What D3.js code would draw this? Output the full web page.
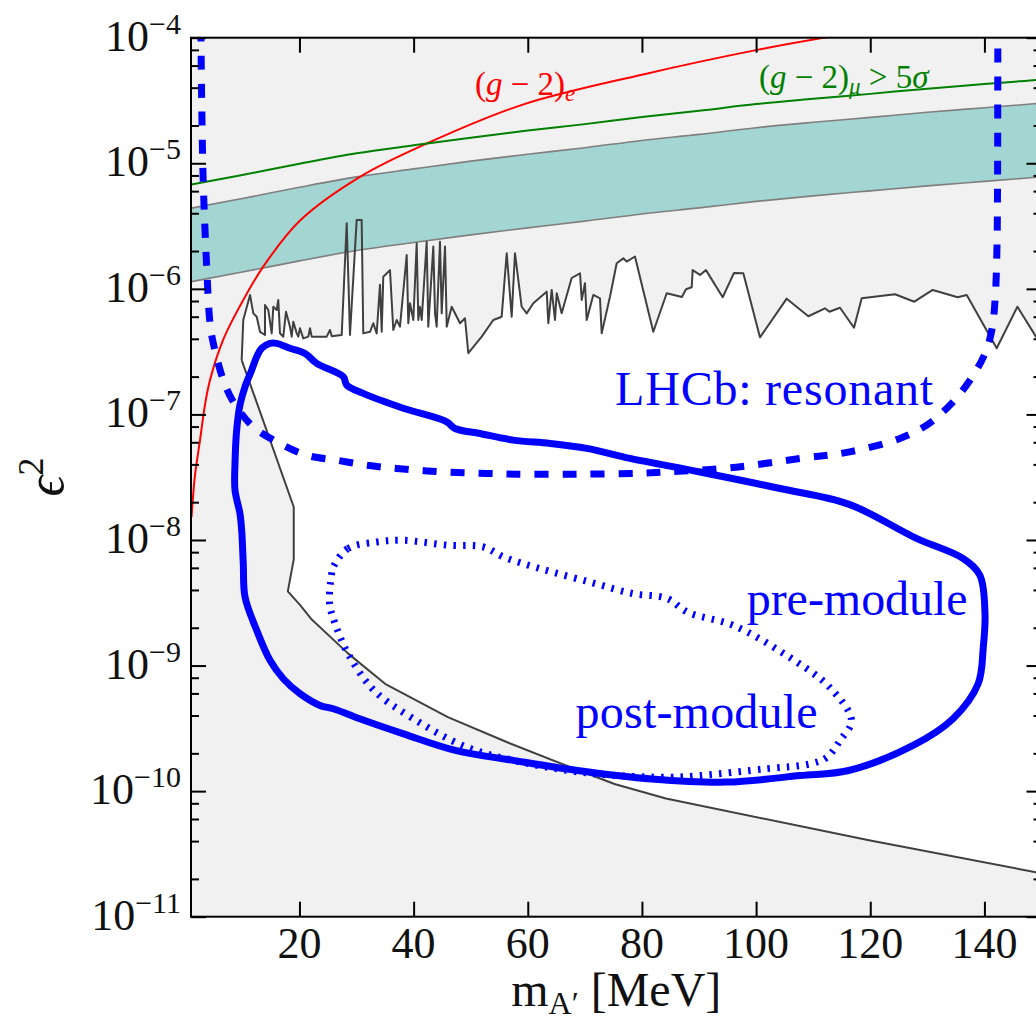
<!DOCTYPE html>
<html>
<head>
<meta charset="utf-8">
<script src="https://cdn.jsdelivr.net/npm/d3@7"></script>
<style>
    html, body { margin: 0; padding: 0; background: #fff; }
    svg { display: block; }
    text { font-family: "Liberation Serif", "DejaVu Serif", serif; }
</style>
</head>
<body>
<div id="chart"></div>
<script>
//@ts-check

/**
 * Tick values
 */
const massTicks = [20, 40, 60, 80, 100, 120, 140];
const decadeExponents = [-11, -10, -9, -8, -7, -6, -5, -4];

/**
 * (g-2)_mu band and the 5 sigma line, sampled every 10 MeV
 */
const bandMass = [1, 10, 20, 30, 40, 50, 60, 70, 80, 90, 100, 110, 120, 130, 140, 150];
const bandLower = [1.14e-6, 1.36e-6, 1.67e-6, 2.02e-6, 2.34e-6, 2.69e-6, 3.06e-6, 3.46e-6, 3.95e-6, 4.41e-6, 4.97e-6, 5.50e-6, 6.03e-6, 6.61e-6, 7.18e-6, 7.80e-6];
const bandUpper = [4.39e-6, 5.24e-6, 6.44e-6, 7.79e-6, 9.02e-6, 1.04e-5, 1.18e-5, 1.33e-5, 1.52e-5, 1.70e-5, 1.92e-5, 2.12e-5, 2.32e-5, 2.55e-5, 2.77e-5, 3.01e-5];
const muonFiveSigma = [6.76e-6, 8.07e-6, 9.92e-6, 1.20e-5, 1.39e-5, 1.60e-5, 1.82e-5, 2.05e-5, 2.34e-5, 2.62e-5, 2.96e-5, 3.26e-5, 3.57e-5, 3.93e-5, 4.27e-5, 4.64e-5];

/**
 * (g-2)_e line
 */
const electronMass = [1.09, 1.70, 2.58, 3.45, 4.33, 6.61, 9.58, 13.6, 20.1, 30.6, 42.2, 59.0, 80.2, 100.2, 111.9, 125];
const electronEps2 = [1.52e-8, 3.28e-8, 6.24e-8, 1.19e-7, 1.88e-7, 3.91e-7, 7.30e-7, 1.49e-6, 3.5e-6, 7.8e-6, 1.43e-5, 2.92e-5, 5.1e-5, 8.0e-5, 1.0e-4, 1.25e-4];

/**
 * Existing limits: upper edge of the allowed window (prompt searches), [mass, eps2]
 */
const promptLimit = [
    [9.88, 2.71e-7], [10.16, 5.65e-7], [11.34, 8.94e-7], [11.91, 6.38e-7], [12.51, 6.0e-7], [13.09, 4.55e-7],
    [13.96, 4.29e-7], [13.96, 7.44e-7], [14.54, 6.78e-7], [15.14, 4.42e-7], [15.42, 7.2e-7], [16.01, 6.78e-7],
    [16.29, 8.15e-7], [16.59, 4.42e-7], [17.17, 4.16e-7], [17.64, 6.57e-7], [18.34, 5.0e-7], [18.64, 4.16e-7],
    [18.92, 5.47e-7], [19.52, 4.42e-7], [19.80, 4.16e-7], [20.09, 4.85e-7], [20.67, 4.03e-7], [21.55, 4.16e-7],
    [21.85, 4.85e-7], [22.14, 4.16e-7], [23.60, 4.16e-7], [24.77, 4.16e-7], [25.35, 4.70e-7], [25.65, 4.2e-7],
    [27.40, 4.29e-7], [28.28, 3.33e-6], [28.85, 4.29e-7], [30.03, 3.54e-6], [30.90, 3.54e-6], [31.18, 4.42e-7],
    [32.36, 4.55e-7], [32.94, 5.32e-7], [33.53, 4.42e-7], [34.11, 1.08e-6], [34.41, 4.55e-7], [34.69, 1.25e-6],
    [35.86, 1.41e-6], [36.44, 4.70e-7], [37.04, 5.65e-7], [37.61, 5.0e-7], [38.79, 1.86e-6], [39.07, 5.32e-7],
    [39.37, 7.67e-7], [39.95, 5.65e-7], [40.54, 2.31e-6], [40.82, 5.65e-7], [41.12, 7.2e-7], [41.42, 5.65e-7],
    [42.29, 2.37e-6], [42.57, 5.0e-7], [43.45, 2.17e-6], [43.75, 6.38e-7], [44.04, 5.0e-7], [44.62, 2.37e-6],
    [44.92, 6.38e-7], [45.50, 2.17e-6], [45.80, 5.0e-7], [46.67, 7.2e-7], [48.13, 5.32e-7], [49.00, 5.83e-7],
    [49.58, 3.07e-7], [51.93, 4.16e-7], [53.96, 5.65e-7], [55.43, 6.0e-7], [56.31, 1.92e-6], [57.18, 6.0e-7],
    [57.76, 1.92e-6], [58.93, 7.2e-7], [59.81, 6.38e-7], [60.97, 7.67e-7], [63.31, 9.5e-7], [63.60, 5.32e-7],
    [64.19, 9.80e-7], [64.77, 5.65e-7], [65.07, 9.23e-7], [65.94, 6.38e-7], [67.69, 1.22e-6], [69.15, 1.33e-6],
    [69.45, 8.15e-7], [70.02, 1.11e-6], [70.32, 5.65e-7], [71.48, 8.94e-7], [72.65, 8.41e-7], [72.95, 4.42e-7],
    [74.40, 8.66e-7], [75.58, 1.60e-6], [76.73, 1.75e-6], [77.33, 1.65e-6], [78.78, 1.81e-6], [81.99, 4.55e-7],
    [84.34, 9.23e-7], [87.0, 8.6e-7], [87.72, 9.93e-7], [88.72, 1.03e-6], [88.89, 1.41e-6], [90.17, 1.29e-6],
    [91.22, 1.41e-6], [94.15, 8.57e-7], [96.13, 1.34e-6], [97.76, 1.33e-6], [100.68, 4.11e-7], [105.36, 8.35e-7],
    [109.15, 6.05e-7], [112.07, 7.0e-7], [112.83, 6.57e-7], [114.70, 7.07e-7], [117.15, 4.90e-7], [118.50, 8.41e-7],
    [124.33, 9.06e-7], [127.72, 7.90e-7], [130.94, 9.80e-7], [135.32, 8.57e-7], [136.90, 8.94e-7], [142.15, 3.36e-7],
    [145.78, 7.2e-7], [149.03, 4.16e-7], [150, 3.5e-7]
];

/**
 * Existing limits: lower edge of the allowed window (beam dumps), [mass, eps2]
 */
const beamDumpLimit = [
    [9.88, 2.71e-7], [19.0, 1.83e-8], [19.0, 7.0e-9], [17.96, 3.9e-9], [20.09, 3.04e-9], [22.02, 2.36e-9],
    [28.5, 1.25e-9], [35.0, 7.16e-10], [46.0, 3.88e-10], [56.4, 2.45e-10], [66.7, 1.6e-10], [75.2, 1.14e-10],
    [84.2, 8.73e-11], [120, 4.04e-11], [149, 2.26e-11], [150, 2.2e-11]
];

/**
 * LHCb resonant search reach (dashed), [mass, eps2]
 */
const resonantReach = [
    [2.73, 1.2e-4], [2.87, 3.20e-5], [3.15, 6.95e-6], [3.75, 1.50e-6], [4.33, 5.31e-7], [4.91, 3.68e-7],
    [6.66, 1.88e-7], [8.41, 1.26e-7], [11.91, 7.96e-8], [16.59, 5.87e-8], [21.27, 4.73e-8], [26.52, 4.32e-8],
    [31.78, 3.94e-8], [37.04, 3.71e-8], [42.29, 3.55e-8], [47.55, 3.45e-8], [52.80, 3.39e-8], [58.06, 3.34e-8],
    [68.57, 3.34e-8], [79.08, 3.39e-8], [84.34, 3.48e-8], [96.0, 3.78e-8], [107.7, 4.46e-8], [116.4, 5.03e-8],
    [125.2, 6.44e-8], [129.9, 8.22e-8], [134.0, 1.19e-7], [137.5, 1.88e-7], [140.1, 3.06e-7], [141.3, 4.70e-7],
    [141.9, 8.65e-7], [142.2, 2.17e-6], [142.3, 6.98e-6], [142.35, 1.2e-4]
];

/**
 * Displaced-vertex reach, pre-module (solid contour), [mass, eps2]
 */
const preModule = [
    [13.38, 3.36e-7], [14.84, 3.68e-7], [16.01, 3.68e-7], [18.34, 3.36e-7], [20.97, 3.06e-7], [23.02, 2.55e-7],
    [27.68, 2.0e-7], [28.28, 1.71e-7], [31.18, 1.47e-7], [38.19, 1.12e-7], [45.80, 8.73e-8], [47.25, 7.73e-8],
    [51.63, 7.05e-8], [57.46, 6.24e-8], [63.89, 5.87e-8], [70.32, 5.36e-8], [77.91, 4.46e-8], [90.17, 3.48e-8],
    [104.2, 2.57e-8], [116.2, 1.93e-8], [128.1, 1.03e-8], [136.3, 7.11e-9], [139.2, 5.24e-9], [140.1, 2.59e-9],
    [139.8, 1.40e-9], [138.9, 7.16e-10], [134.5, 3.77e-10], [127.5, 2.31e-10], [116.2, 1.46e-10], [107.7, 1.33e-10],
    [94.85, 1.18e-10], [81.68, 1.25e-10], [68.71, 1.46e-10], [57.69, 1.75e-10], [47.32, 2.11e-10], [38.24, 2.86e-10],
    [29.82, 3.88e-10], [25.93, 4.53e-10], [23.60, 4.81e-10], [20.09, 5.97e-10], [17.17, 7.85e-10], [14.84, 1.10e-9],
    [12.51, 1.91e-9], [10.46, 3.52e-9], [10.16, 6.49e-9], [9.88, 1.19e-8], [9.58, 1.62e-8], [8.71, 2.49e-8],
    [8.71, 4.07e-8], [9.0, 7.5e-8], [9.58, 1.19e-7], [10.46, 1.66e-7], [11.63, 2.25e-7], [12.51, 2.88e-7]
];

/**
 * Displaced-vertex reach, post-module (dotted contour), [mass, eps2]
 */
const postModule = [
    [25.93, 6.10e-9], [28.50, 8.55e-9], [33.53, 9.64e-9], [38.19, 9.95e-9], [46.02, 9.08e-9], [52.21, 8.80e-9],
    [55.75, 7.32e-9], [62.14, 5.92e-9], [70.90, 4.62e-9], [78.43, 3.74e-9], [84.34, 3.43e-9], [88.07, 2.65e-9],
    [96.0, 2.09e-9], [105.4, 1.20e-9], [112.9, 6.70e-10], [116.7, 3.65e-10], [114.7, 2.53e-10], [112.4, 1.86e-10],
    [109.5, 1.65e-10], [101.9, 1.51e-10], [90.17, 1.33e-10], [84.92, 1.29e-10], [71.95, 1.37e-10], [58.99, 1.70e-10],
    [49.26, 2.24e-10], [39.54, 3.88e-10], [33.06, 6.34e-10], [28.52, 1.24e-9], [26.24, 2.16e-9], [25.28, 3.11e-9],
    [25.60, 5.24e-9]
];

/**
 * Frame of the axes in page pixels. The right edge lies just outside the page, as in the original figure.
 */
const width = 1036;
const height = 1021;
const plot = { left: 191, right: 1041.5, top: 37.7, bottom: 916.7 };

const x = d3.scaleLinear().domain([1, 150]).range([plot.left, plot.right]);
const y = d3.scaleLog().domain([1e-11, 1e-4]).range([plot.bottom, plot.top]);

const svg = d3.select("#chart").append("svg")
    .attr("xmlns", "http://www.w3.org/2000/svg")
    .attr("width", width)
    .attr("height", height)
    .attr("viewBox", [0, 0, width, height]);

svg.append("defs")
    .append("clipPath")
    .attr("id", "plotClip")
    .append("rect")
    .attr("x", plot.left)
    .attr("y", plot.top)
    .attr("width", plot.right - plot.left)
    .attr("height", plot.bottom - plot.top);

const area = svg.append("g").attr("clip-path", "url(#plotClip)");

/**
 * Excluded region is grey; the allowed window between the two limits is white.
 */
area.append("rect")
    .attr("x", plot.left)
    .attr("y", plot.top)
    .attr("width", plot.right - plot.left)
    .attr("height", plot.bottom - plot.top)
    .attr("fill", "#f1f1f1");

const pairLine = d3.line().x((d) => x(d[0])).y((d) => y(d[1]));

area.append("path")
    .attr("d", pairLine(promptLimit.concat(beamDumpLimit.slice().reverse())) + "Z")
    .attr("fill", "#fff");

// muon g-2 band
const band = d3.area()
    .x((d, i) => x(bandMass[i]))
    .y0((d, i) => y(bandLower[i]))
    .y1((d, i) => y(bandUpper[i]))
    .curve(d3.curveMonotoneX);

area.append("path")
    .attr("d", band(bandMass))
    .attr("fill", "#a3d6d2");

const massLine = (values) => d3.line()
    .x((d, i) => x(bandMass[i]))
    .y((d) => y(d))
    .curve(d3.curveMonotoneX)(values);

for (const edge of [bandLower, bandUpper]) {
    area.append("path")
        .attr("d", massLine(edge))
        .attr("fill", "none")
        .attr("stroke", "#7f7f7f")
        .attr("stroke-width", 1.6);
}

// limit outlines
for (const limit of [promptLimit, beamDumpLimit]) {
    area.append("path")
        .attr("d", pairLine(limit))
        .attr("fill", "none")
        .attr("stroke", "#404040")
        .attr("stroke-width", 2)
        .attr("stroke-linejoin", "round");
}

area.append("path")
    .attr("d", d3.line()
        .x((d, i) => x(electronMass[i]))
        .y((d) => y(d))
        .curve(d3.curveCatmullRom)(electronEps2))
    .attr("fill", "none")
    .attr("stroke", "#ff0000")
    .attr("stroke-width", 2);

area.append("path")
    .attr("d", massLine(muonFiveSigma))
    .attr("fill", "none")
    .attr("stroke", "#008000")
    .attr("stroke-width", 2);

// LHCb curves
const blue = "#0000ff";

area.append("path")
    .attr("d", d3.line().x((d) => x(d[0])).y((d) => y(d[1])).curve(d3.curveCatmullRom)(resonantReach))
    .attr("fill", "none")
    .attr("stroke", blue)
    .attr("stroke-width", 7)
    .attr("stroke-dasharray", "14,14");

area.append("path")
    .attr("d", d3.line().x((d) => x(d[0])).y((d) => y(d[1])).curve(d3.curveCatmullRomClosed)(preModule))
    .attr("fill", "none")
    .attr("stroke", blue)
    .attr("stroke-width", 7)
    .attr("stroke-linejoin", "round");

area.append("path")
    .attr("d", d3.line().x((d) => x(d[0])).y((d) => y(d[1])).curve(d3.curveCatmullRomClosed)(postModule))
    .attr("fill", "none")
    .attr("stroke", blue)
    .attr("stroke-width", 7)
    .attr("stroke-dasharray", "2.5,7.2");

/**
 * Frame and inward ticks on all four sides
 */
svg.append("rect")
    .attr("x", plot.left)
    .attr("y", plot.top)
    .attr("width", plot.right - plot.left)
    .attr("height", plot.bottom - plot.top)
    .attr("fill", "none")
    .attr("stroke", "#000")
    .attr("stroke-width", 2);

const minorValues = [];
for (const e of decadeExponents.slice(0, -1)) {
    for (const k of [2, 4, 6, 8]) minorValues.push(k * Math.pow(10, e));
}
const decadeValues = decadeExponents.map((e) => Math.pow(10, e));

const tickAxes = [
    { axis: d3.axisBottom(x).tickValues(massTicks).tickSize(-15), at: `translate(0,${plot.bottom})` },
    { axis: d3.axisTop(x).tickValues(massTicks).tickSize(-15), at: `translate(0,${plot.top})` },
    { axis: d3.axisLeft(y).tickValues(decadeValues).tickSize(-15), at: `translate(${plot.left},0)` },
    { axis: d3.axisLeft(y).tickValues(minorValues).tickSize(-8), at: `translate(${plot.left},0)` },
    { axis: d3.axisRight(y).tickValues(decadeValues).tickSize(-15), at: `translate(${plot.right},0)` },
    { axis: d3.axisRight(y).tickValues(minorValues).tickSize(-8), at: `translate(${plot.right},0)` }
];

for (const t of tickAxes) {
    const g = svg.append("g")
        .attr("transform", t.at)
        .call(t.axis.tickSizeOuter(0).tickFormat(() => ""));
    g.select(".domain").remove();
    g.selectAll(".tick line").attr("stroke", "#000").attr("stroke-width", 2);
    g.selectAll(".tick text").remove();
}

// tick labels
svg.append("g")
    .selectAll("text")
    .data(massTicks)
    .join("text")
    .attr("x", (d) => x(d))
    .attr("y", plot.bottom + 41)
    .attr("text-anchor", "middle")
    .attr("font-size", 44)
    .attr("fill", "#111")
    .text((d) => d);

svg.append("g")
    .selectAll("text")
    .data(decadeExponents)
    .join("text")
    .attr("x", plot.left - 10)
    .attr("y", (d) => y(Math.pow(10, d)) + 13)
    .attr("text-anchor", "end")
    .attr("font-size", 44)
    .attr("fill", "#111")
    .each(function (d) {
        const label = d3.select(this);
        label.append("tspan").text("10");
        label.append("tspan").attr("dy", -17).attr("font-size", 30).text("\u2212" + Math.abs(d));
    });

// axis titles
const xTitle = svg.append("text")
    .attr("x", (plot.left + plot.right) / 2)
    .attr("y", 1006)
    .attr("text-anchor", "middle")
    .attr("font-size", 48)
    .attr("fill", "#111");
xTitle.append("tspan").text("m");
xTitle.append("tspan").attr("font-size", 32).attr("dy", 8).text("A\u2032");
xTitle.append("tspan").attr("dy", -8).text(" [MeV]");

const yTitle = svg.append("text")
    .attr("transform", "translate(63,477) rotate(-90)")
    .attr("text-anchor", "middle")
    .attr("font-size", 52)
    .attr("fill", "#111");
yTitle.append("tspan").attr("font-style", "italic").text("\u03f5");
yTitle.append("tspan").attr("font-size", 36).attr("dy", -20).text("2");

/**
 * Curve annotations
 */
const electronLabel = svg.append("text")
    .attr("x", x(50.75))
    .attr("y", y(3.52e-5))
    .attr("font-size", 33)
    .attr("fill", "#ff0000");
electronLabel.append("tspan").text("(");
electronLabel.append("tspan").attr("font-style", "italic").text("g");
electronLabel.append("tspan").text(" \u2212 2)");
electronLabel.append("tspan").attr("font-style", "italic").attr("font-size", 23).attr("dy", 6).text("e");

const muonLabel = svg.append("text")
    .attr("x", x(100.5))
    .attr("y", y(3.99e-5))
    .attr("font-size", 33)
    .attr("fill", "#008000");
muonLabel.append("tspan").text("(");
muonLabel.append("tspan").attr("font-style", "italic").text("g");
muonLabel.append("tspan").text(" \u2212 2)");
muonLabel.append("tspan").attr("font-style", "italic").attr("font-size", 23).attr("dy", 6).text("\u03bc");
muonLabel.append("tspan").attr("dy", -6).text(" > 5");
muonLabel.append("tspan").attr("font-style", "italic").text("\u03c3");

const blueLabels = [
    { text: "LHCb: resonant", m: 75.3, e2: 1.19e-7, span: 318 },
    { text: "pre-module", m: 98.35, e2: 2.51e-9, span: 221 },
    { text: "post-module", m: 68.38, e2: 3.16e-10, span: 242 }
];

svg.append("g")
    .selectAll("text")
    .data(blueLabels)
    .join("text")
    .attr("x", (d) => x(d.m))
    .attr("y", (d) => y(d.e2))
    .attr("font-size", 48)
    .attr("textLength", (d) => d.span)
    .attr("lengthAdjust", "spacing")
    .attr("fill", blue)
    .text((d) => d.text);
</script>
</body>
</html>
